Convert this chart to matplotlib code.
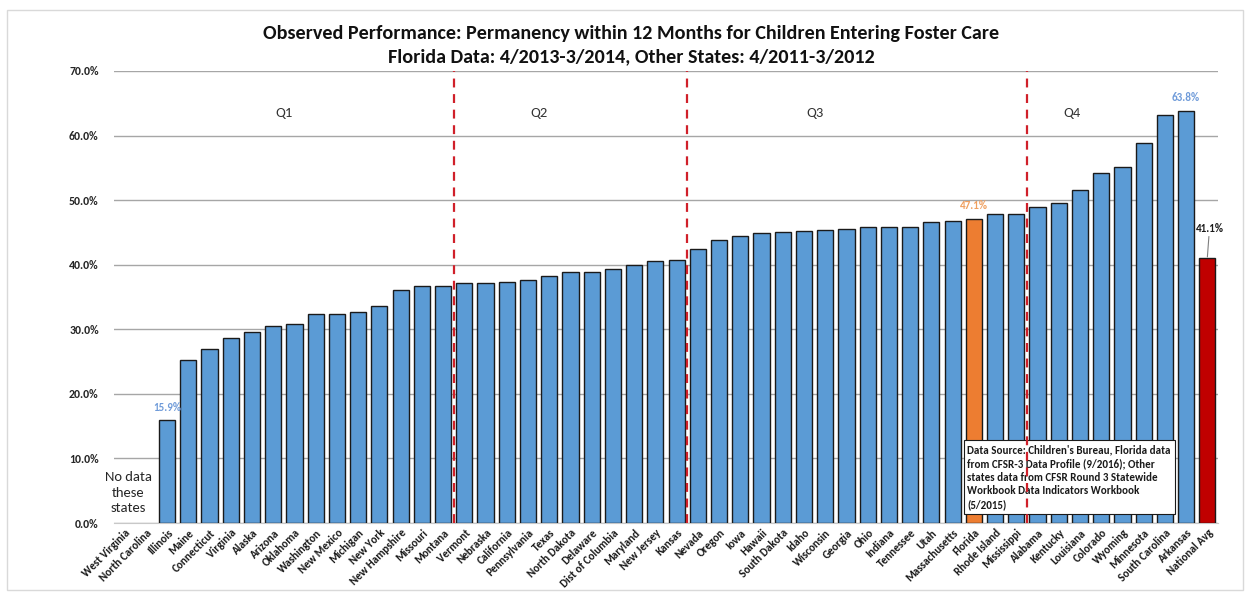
import matplotlib
matplotlib.use("Agg")
import matplotlib.pyplot as plt
from matplotlib.patches import Rectangle
from matplotlib.ticker import FuncFormatter, MultipleLocator

states = ["West Virginia", "North Carolina", "Illinois", "Maine", "Connecticut", "Virginia",
          "Alaska", "Arizona", "Oklahoma", "Washington", "New Mexico", "Michigan", "New York",
          "New Hampshire", "Missouri", "Montana", "Vermont", "Nebraska", "California",
          "Pennsylvania", "Texas", "North Dakota", "Delaware", "Dist of Columbia", "Maryland",
          "New Jersey", "Kansas", "Nevada", "Oregon", "Iowa", "Hawaii", "South Dakota", "Idaho",
          "Wisconsin", "Georgia", "Ohio", "Indiana", "Tennessee", "Utah", "Massachusetts",
          "Florida", "Rhode Island", "Mississippi", "Alabama", "Kentucky", "Louisiana",
          "Colorado", "Wyoming", "Minnesota", "South Carolina", "Arkansas", "National Avg"]
values = [None, None, 15.9, 25.3, 27.0, 28.7, 29.6, 30.5, 30.8, 32.3, 32.4, 32.6, 33.6,
          36.1, 36.7, 36.7, 37.1, 37.1, 37.3, 37.6, 38.2, 38.8, 38.8, 39.4, 40.0, 40.6,
          40.7, 42.5, 43.8, 44.5, 44.9, 45.0, 45.2, 45.4, 45.6, 45.9, 45.9, 45.9, 46.6,
          46.8, 47.1, 47.8, 47.8, 49.0, 49.6, 51.5, 54.2, 55.1, 58.9, 63.2, 63.8, 41.1]
quartile_labels = ["Q1", "Q2", "Q3", "Q4"]
quartile_breaks_after = ["Montana", "Kansas", "Mississippi"]
quartile_label_x = [7.5, 19.5, 32.5, 44.6]
labeled = {"Illinois": "#6F9BD9", "Florida": "#F0A060", "Arkansas": "#6F9BD9"}
title_lines = ["Observed Performance: Permanency within 12 Months for Children Entering Foster Care",
               "Florida Data: 4/2013-3/2014, Other States: 4/2011-3/2012"]
source_text = ("Data Source: Children's Bureau, Florida data\n"
               "from CFSR-3 Data Profile (9/2016); Other\n"
               "states data from CFSR Round 3 Statewide\n"
               "Workbook Data Indicators Workbook\n"
               "(5/2015)")

FONT = ["Carlito", "Liberation Sans Narrow", "Liberation Sans", "DejaVu Sans"]
plt.rcParams["font.family"] = FONT

fig = plt.figure(figsize=(12.5, 5.95), dpi=100)
ax = fig.add_axes([114 / 1250, 1 - 523 / 595, (1218 - 114) / 1250, (523 - 71) / 595])

# figure border
fig.patches.append(Rectangle((7 / 1250, 5 / 595), 1236 / 1250, 580 / 595, transform=fig.transFigure,
                             fill=False, edgecolor="#d9d9d9", linewidth=1))

x = list(range(len(states)))
bx, bh, bc = [], [], []
for i, (s, v) in enumerate(zip(states, values)):
    if v is None:
        continue
    bx.append(i)
    bh.append(v / 100)
    if s == "Florida":
        bc.append("#ED7D31")
    elif s == "National Avg":
        bc.append("#C00000")
    else:
        bc.append("#5B9BD5")
ax.bar(bx, bh, width=0.76, color=bc, edgecolor="#1a1a1a", linewidth=1.0, zorder=3)

ax.set_xlim(-0.5, len(states) - 0.5)
ax.set_ylim(0, 0.70)
ax.yaxis.set_major_locator(MultipleLocator(0.10))
ax.yaxis.set_major_formatter(FuncFormatter(lambda v, p: f"{v * 100:.1f}%"))
ax.grid(axis="y", color="#a6a6a6", linewidth=1.0, zorder=0)
for sp in ["top", "right", "left"]:
    ax.spines[sp].set_visible(False)
ax.spines["bottom"].set_color("#c8c8c8")
ax.tick_params(axis="y", length=0, pad=11, labelsize=8.5)
ax.tick_params(axis="x", length=0, pad=3, labelsize=8)
for lab in ax.get_yticklabels():
    lab.set_fontweight("bold")
    lab.set_color("#262626")
ax.set_xticks(x)
ax.set_xticklabels(states, rotation=45, ha="right", rotation_mode="anchor",
                   fontweight="bold", color="#1a1a1a")

# quartile dividers
for name in quartile_breaks_after:
    pos = states.index(name) + 0.5
    ax.axvline(pos, color="#D0202A", linestyle=(0, (4, 3)), linewidth=1.6, zorder=6)
for lab, qx in zip(quartile_labels, quartile_label_x):
    ax.text(qx, 0.635, lab, ha="center", va="center", fontsize=10.5, color="#333333")

# value labels
for name, c in labeled.items():
    i = states.index(name)
    ax.text(i, values[i] / 100 + 0.012, f"{values[i]:.1f}%", ha="center", va="bottom",
            fontsize=8, fontweight="bold", color=c, zorder=5)
i_nat = states.index("National Avg")
ax.annotate(f"{values[i_nat]:.1f}%", xy=(i_nat, values[i_nat] / 100 + 0.001),
            xytext=(i_nat + 0.1, values[i_nat] / 100 + 0.037), ha="center", va="bottom",
            fontsize=8, fontweight="bold", color="#1a1a1a",
            arrowprops=dict(arrowstyle="-", color="#7f7f7f", linewidth=0.8,
                            shrinkA=0, shrinkB=0), zorder=5)

ax.text(0.17, 0.047, "No data\nthese\nstates", ha="center", va="center", fontsize=10.5,
        color="#262626", linespacing=1.35)

# source box
ax.text(states.index("Florida") - 0.3, 0.122, source_text, ha="left", va="top",
        fontsize=7.9, fontweight="bold", color="#1a1a1a", linespacing=1.3, zorder=5,
        bbox=dict(boxstyle="square,pad=0.35", facecolor="white", edgecolor="#1a1a1a",
                  linewidth=0.8))

fig.text(0.505, 1 - 33 / 595, title_lines[0], ha="center", va="center", fontsize=14.5,
         fontweight="bold", color="#111111")
fig.text(0.505, 1 - 57 / 595, title_lines[1], ha="center", va="center", fontsize=14.5,
         fontweight="bold", color="#111111")

fig.savefig("out.png", dpi=100)
